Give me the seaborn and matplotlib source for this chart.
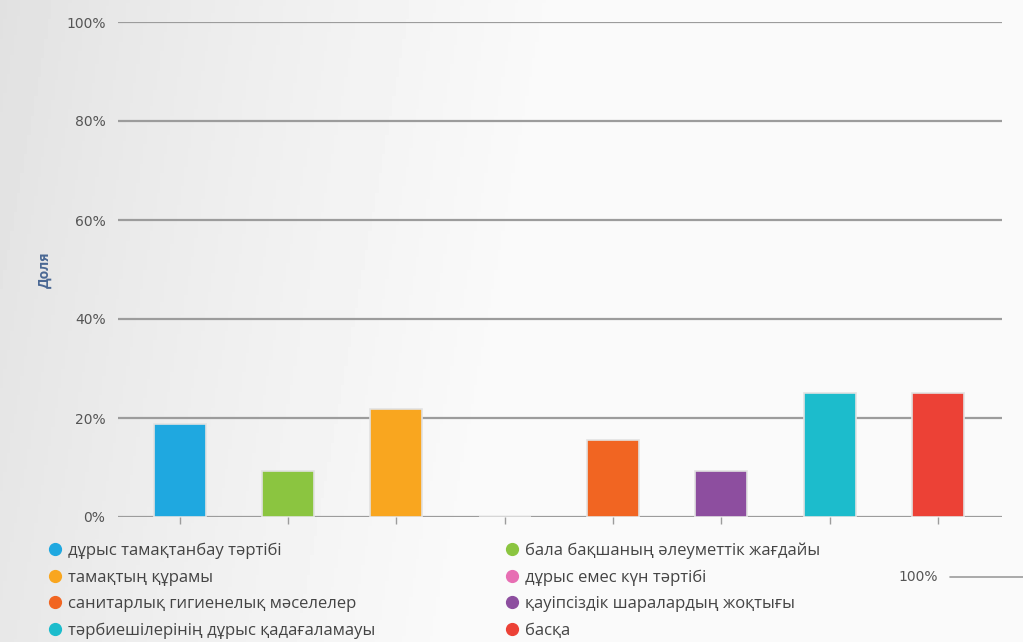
import matplotlib
matplotlib.use("Agg")
import matplotlib.pyplot as plt
import numpy as np
import pandas as pd
import seaborn as sns
from matplotlib.lines import Line2D
from matplotlib.ticker import PercentFormatter

categories = [
    "дұрыс тамақтанбау тәртібі",
    "бала бақшаның әлеуметтік жағдайы",
    "тамақтың құрамы",
    "дұрыс емес күн тәртібі",
    "санитарлық гигиенелық мәселелер",
    "қауіпсіздік шаралардың жоқтығы",
    "тәрбиешілерінің дұрыс қадағаламауы",
    "басқа",
]
shares = [18.75, 9.375, 21.875, 0.0, 15.625, 9.375, 25.0, 25.0]
colors = ["#1fa8e0", "#8bc540", "#f9a61f", "#e76eb3",
          "#f16522", "#8d4e9f", "#1cbccc", "#ec4136"]
yticks = [0, 20, 40, 60, 80, 100]

sns.set_theme(style="white")
plt.rcParams["font.family"] = ["Open Sans", "DejaVu Sans"]

fig = plt.figure(figsize=(10.23, 6.42), dpi=100)

# light gray gradient behind everything
bg = fig.add_axes([0, 0, 1, 1], zorder=-10)
X, Y = np.meshgrid(np.linspace(0, 1, 300), np.linspace(0, 1, 200))
shade = 0.88 + 0.10 * np.clip(X * 1.8 + Y * 0.2, 0, 1) ** 0.8
bg.imshow(shade, cmap="gray", vmin=0, vmax=1, aspect="auto",
          extent=[0, 1, 0, 1], origin="upper")
bg.axis("off")

ax = fig.add_axes([118 / 1023, 1 - 517 / 642, 884 / 1023, 495 / 642])
ax.set_facecolor("none")

df = pd.DataFrame({"category": categories, "share": shares})
sns.barplot(data=df, x="category", y="share", hue="category",
            palette=colors, order=categories, hue_order=categories,
            width=0.48, saturation=1, edgecolor="#e2e2e2", linewidth=1.2,
            legend=False, ax=ax, zorder=3)

ax.set_ylim(0, 100)
ax.set_xlim(-0.57, 7.59)
ax.set_yticks(yticks)
ax.yaxis.set_major_formatter(PercentFormatter(decimals=0))
ax.yaxis.grid(True, color="#9c9c9c", linewidth=1.6, zorder=1)
ax.set_axisbelow(True)
for s in ax.spines.values():
    s.set_visible(False)
ax.tick_params(axis="y", length=0, labelsize=10, labelcolor="#555555", pad=9,
               labelfontfamily="DejaVu Sans")
ax.tick_params(axis="x", bottom=True, length=5, width=1, color="#9c9c9c",
               labelbottom=False)
ax.set_xlabel("")
ax.set_ylabel("Доля", fontsize=10, fontweight="bold", color="#4a6894")
ax.yaxis.set_label_coords(-66 / 884, 0.5)

# legend, filled row by row
handles = [Line2D([], [], marker="o", linestyle="", markersize=8.5,
                  markerfacecolor=c, markeredgecolor=c) for c in colors]
order = [0, 2, 4, 6, 1, 3, 5, 7]
fig.legend([handles[i] for i in order], [categories[i] for i in order],
           ncol=2, loc="upper left", bbox_to_anchor=(40 / 1023, 1 - 536 / 642),
           frameon=False, fontsize=12, labelcolor="#444444",
           handletextpad=0.3, handlelength=1.0, labelspacing=0.62,
           columnspacing=7.65, borderaxespad=0)

fig.text(898 / 1023, 1 - 577 / 642, "100%", fontsize=10, color="#555555",
         va="center", family="DejaVu Sans")
fig.add_artist(Line2D([950 / 1023, 1.0], [1 - 577 / 642] * 2,
                      color="#9c9c9c", linewidth=1.2))

fig.savefig("out.png", dpi=100)
